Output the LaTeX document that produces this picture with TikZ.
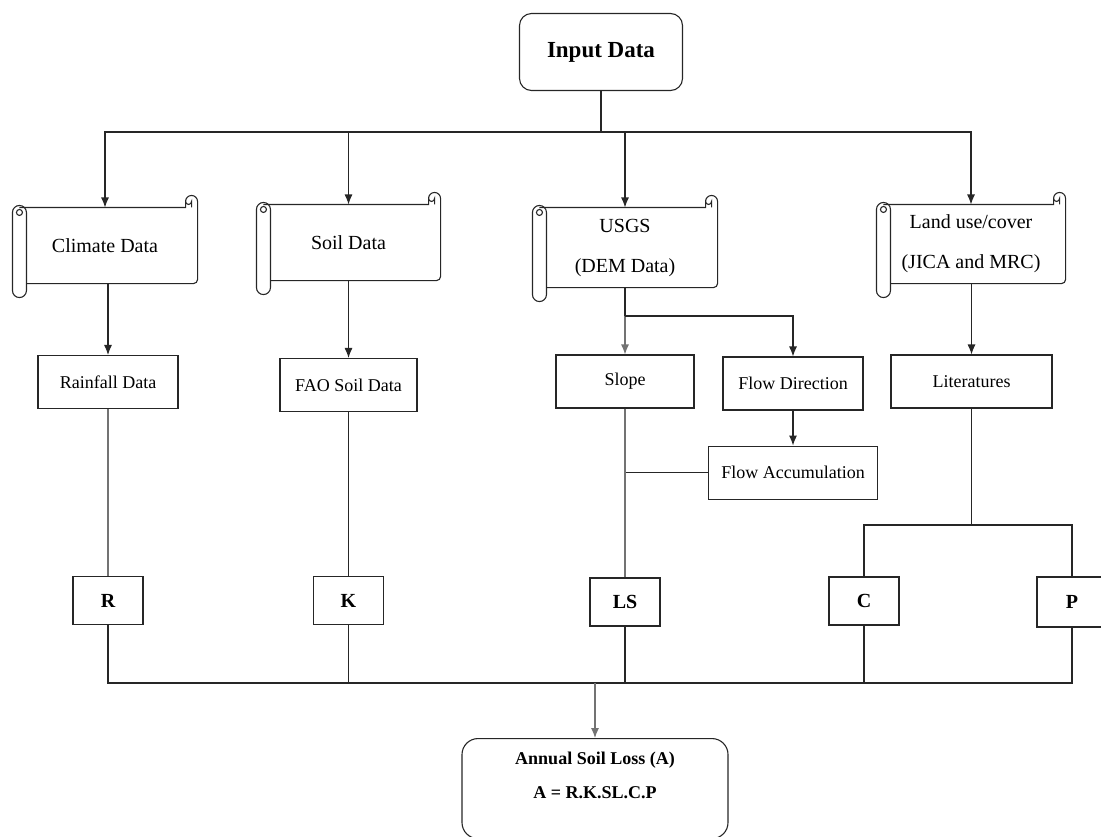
\documentclass[tikz,border=0pt]{standalone}
\usepackage{fontspec}
\setmainfont{Liberation Serif}
\usetikzlibrary{positioning, calc, arrows.meta}

\tikzset{
  scrollbox/.style={rectangle, align=center, inner sep=0pt, font=\fontsize{10}{20}\selectfont},
  databox/.style={rectangle, draw, inner sep=0pt, minimum height=26.5pt, font=\fontsize{9}{11}\selectfont},
  letterbox/.style={rectangle, draw, inner sep=0pt, minimum width=35pt, minimum height=24pt, font=\fontsize{10}{12}\selectfont\bfseries},
  roundbox/.style={rectangle, draw, rounded corners=6pt, inner sep=0pt, align=center},
  faint/.style={black!55},
}

% scroll outline round a scrollbox node
\newcommand{\scrolldeco}[1]{%
  \draw ([xshift=3.5pt]#1.north west) -- ([xshift=-6pt]#1.north east) -- ++(0,3pt)
    arc[start angle=180, end angle=0, radius=3pt]
    [rounded corners=2pt] -- (#1.south east) -- ([xshift=7pt]#1.south west);
  \draw ([xshift=-6pt,yshift=3pt]#1.north east) arc[start angle=180, end angle=360, radius=1.5pt]
    -- ([xshift=-3pt]#1.north east);
  \draw[rounded corners=3.5pt] ([yshift=-7pt]#1.south west) rectangle ([xshift=7pt,yshift=1pt]#1.north west);
  \draw ([xshift=3.5pt,yshift=-2.5pt]#1.north west) circle[radius=1.5pt];
}

\begin{document}
\begin{tikzpicture}[x=0.5pt, y=-0.5pt, line width=0.55pt, color=black!85, text=black,
    >={Latex[length=5pt,width=4pt]}]
  \useasboundingbox (0,0) rectangle (1101,836);

  % Define the nodes
  \node (input) [roundbox, minimum width=81.5pt, minimum height=38.5pt,
    font=\fontsize{11.5}{14}\selectfont\bfseries] at (601,52) {Input Data};

  \node (climate) [scrollbox, minimum width=92pt, minimum height=37.5pt] at (105,245.5) {Climate Data};
  \node (soil) [scrollbox, minimum width=91.5pt, minimum height=37.5pt] at (348.5,242.5) {Soil Data};
  \node (usgs) [scrollbox, minimum width=92pt, minimum height=39.5pt] at (625,247.5) {USGS\\[0pt](DEM Data)};
  \node (land) [scrollbox, minimum width=94pt, minimum height=39pt] at (971,244) {Land use/cover\\(JICA and MRC)};
  \scrolldeco{climate}
  \scrolldeco{soil}
  \scrolldeco{usgs}
  \scrolldeco{land}

  \node (rain) [databox, minimum width=70pt] at (108,382) {Rainfall Data};
  \node (fao) [databox, minimum width=68.5pt] at (348.5,385) {FAO Soil Data};
  \node (slope) [databox, minimum width=69pt] at (625,381.5) {Slope};
  \node (flowdir) [databox, minimum width=70pt] at (793,383.5) {Flow Direction};
  \node (flowacc) [databox, minimum width=84.5pt, below=17.5pt of flowdir] {Flow Accumulation};
  \node (lit) [databox, minimum width=80.5pt] at (971.5,381.5) {Literatures};

  \node (r) [letterbox] at (108,600.5) {R};
  \node (k) [letterbox] at (348.5,600.5) {K};
  \node (ls) [letterbox] at (625,602) {LS};
  \node (c) [letterbox] at (864,601) {C};
  \node (p) [letterbox, minimum height=25pt] at (1072,602) {P};

  \node (annual) [roundbox, rounded corners=8pt, minimum width=133pt, minimum height=50pt,
    font=\fontsize{9}{17}\selectfont\bfseries, anchor=north] at (595,738)
    {Annual Soil Loss (A)\\A = R.K.SL.C.P\\[-4pt]};

  \coordinate (bus) at (601,132);
  \coordinate (split) at (625,316);
  \coordinate (litbus) at (971.5,525);
  \coordinate (sumbus) at (595,683);

  % Connect the nodes
  \draw (input.south) -- (bus);
  \draw [->] (bus) -| (climate.north);
  \draw [->] (bus) -| (soil.north);
  \draw [->] (bus) -| (usgs.north);
  \draw [->] (bus) -| (land.north);

  \draw [->] (rain.north |- climate.south) -- (rain.north);
  \draw [->] (fao.north |- soil.south) -- (fao.north);
  \draw (usgs.south) -- (split);
  \draw [->, faint] (split) -- (slope.north);
  \draw [->] (split) -| (flowdir.north);
  \draw [->] (flowdir.south) -- (flowacc.north -| flowdir.south);
  \draw (flowacc.west) -- (slope.south |- flowacc.west);
  \draw [->] (lit.north |- land.south) -- (lit.north);

  \draw [faint] (rain.south) -- (r.north);
  \draw (fao.south) -- (k.north);
  \draw [faint] (slope.south) -- (ls.north);
  \draw (lit.south) -- (litbus);
  \draw (c.north) |- (litbus);
  \draw (p.north) |- (litbus);

  \draw (r.south) |- (sumbus) -| (p.south);
  \draw (k.south) -- (k.south |- sumbus);
  \draw (ls.south) -- (ls.south |- sumbus);
  \draw (c.south) -- (c.south |- sumbus);
  \draw [->, faint] (sumbus) -- (annual.north);
\end{tikzpicture}
\end{document}
